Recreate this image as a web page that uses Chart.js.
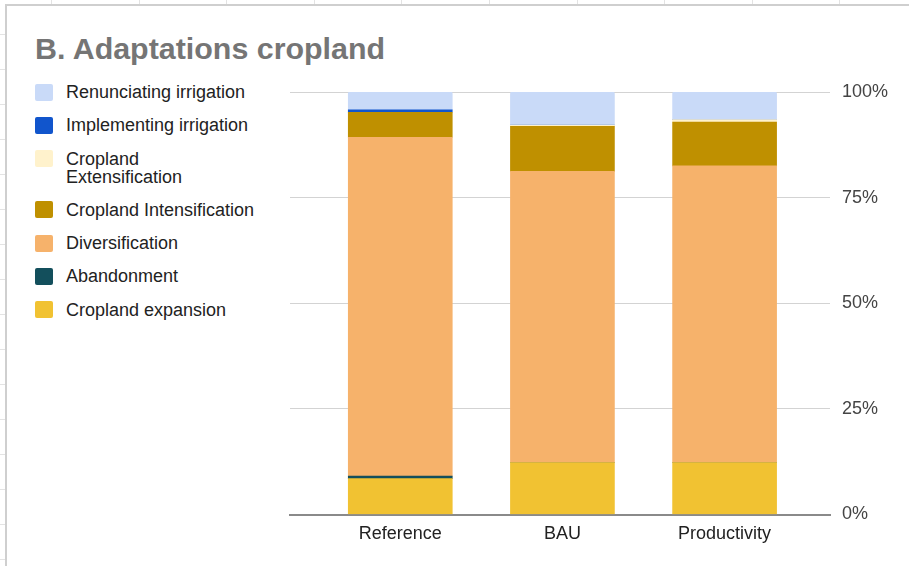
<!DOCTYPE html>
<html>
<head>
<meta charset="utf-8">
<title>B. Adaptations cropland</title>
<script src="https://cdn.jsdelivr.net/npm/chart.js@4.4.1/dist/chart.umd.min.js"></script>
<style>
  html, body { margin: 0; padding: 0; }
  body {
    width: 909px; height: 566px; overflow: hidden; position: relative;
    background-color: #ffffff;
    background-image:
      repeating-linear-gradient(to right, transparent 0, transparent 51px, #e3e3e3 51px, #e3e3e3 52px, transparent 52px, transparent 87.6px),
      repeating-linear-gradient(to bottom, transparent 0, transparent 34px, #e3e3e3 34px, #e3e3e3 35px, transparent 35px, transparent 29.2px);
    font-family: "Liberation Sans", Arial, sans-serif;
  }
  #frame {
    position: absolute; left: 5px; top: 4px; width: 920px; height: 580px;
    background: #ffffff; border: 2px solid #cfcfcf; box-sizing: border-box;
  }
  #title {
    position: absolute; left: 35px; top: 31px; margin: 0;
    font: bold 30.4px "Liberation Sans", Arial, sans-serif; color: #757575;
    white-space: nowrap; line-height: 34px;
  }
  #legend {
    position: absolute; left: 35px; top: 83px; margin: 0; padding: 0; list-style: none;
  }
  #legend li {
    display: flex; align-items: flex-start; margin-bottom: 15.3px;
  }
  #legend .box {
    width: 18px; height: 17px; border-radius: 2px; flex: 0 0 auto; margin-top: 0.5px; margin-right: 13px;
  }
  #legend .txt {
    width: 191px; font-size: 18px; line-height: 18px; color: #222222;
  }
  #wrap { position: absolute; left: 7px; top: 6px; width: 900px; height: 558px; }
</style>
</head>
<body>
<div id="frame"></div>
<h1 id="title">B. Adaptations cropland</h1>
<ul id="legend"></ul>
<div id="wrap"><canvas id="chart" width="900" height="558"></canvas></div>
<script>
// Scenarios along the horizontal axis
const categories = ['Reference', 'BAU', 'Productivity'];

// Share of cropland (%) per adaptation, stacked bottom to top
const croplandExpansion       = [8.5, 12.3, 12.3];
const abandonment             = [0.6, 0.0, 0.0];
const diversification         = [80.2, 68.9, 70.2];
const croplandIntensification = [5.9, 10.7, 10.4];
const croplandExtensification = [0.0, 0.3, 0.6];
const implementingIrrigation  = [0.6, 0.0, 0.0];
const renunciatingIrrigation  = [4.2, 7.8, 6.5];

// Percent axis ticks
const yTicks = [0, 25, 50, 75, 100];

const series = [
  { label: 'Cropland expansion',       values: croplandExpansion,       color: '#f1c232' },
  { label: 'Abandonment',              values: abandonment,             color: '#134f5c' },
  { label: 'Diversification',          values: diversification,         color: '#f6b26b' },
  { label: 'Cropland Intensification', values: croplandIntensification, color: '#bf9000' },
  { label: 'Cropland Extensification', values: croplandExtensification, color: '#fff2cc' },
  { label: 'Implementing irrigation',  values: implementingIrrigation,  color: '#1155cc' },
  { label: 'Renunciating irrigation',  values: renunciatingIrrigation,  color: '#c9daf8' }
];

const datasets = series.map((s, k) => ({
  label: s.label,
  data: s.values.map((v, i) => ({ x: i, y: v })),
  backgroundColor: s.color,
  borderWidth: 0,
  borderRadius: k === series.length - 1 ? { topLeft: 2, topRight: 2 } : 0,
  borderSkipped: 'start',
  barThickness: 104
}));

const tickFont = { family: '"Liberation Sans", Arial, sans-serif', size: 18 };

const chart = new Chart(document.getElementById('chart'), {
  type: 'bar',
  data: { datasets },
  options: {
    responsive: false,
    animation: false,
    layout: { padding: { left: 283, top: 86, right: 7, bottom: 9.5 } },
    plugins: { legend: { display: false }, tooltip: { enabled: false } },
    scales: {
      x: {
        type: 'linear',
        stacked: true,
        offset: false,
        bounds: 'data',
        min: -0.68,
        max: 2.65,
        afterFit: s => { s.height = 40; },
        grid: { display: false, drawTicks: false, offset: false },
        border: { display: true, color: '#8a8a8a', width: 2 },
        afterBuildTicks: s => { s.ticks = categories.map((c, i) => ({ value: i })); },
        ticks: {
          padding: 9,
          color: '#222222',
          font: tickFont,
          maxRotation: 0,
          autoSkip: false,
          callback: v => categories[v] ?? ''
        }
      },
      y: {
        position: 'right',
        stacked: true,
        min: 0,
        max: 100,
        afterFit: s => { s.width = 70; },
        afterBuildTicks: s => { s.ticks = yTicks.map(v => ({ value: v })); },
        grid: { color: '#d3d3d3', lineWidth: 1, drawTicks: false },
        border: { display: false },
        ticks: {
          padding: 12,
          color: '#444444',
          font: tickFont,
          callback: v => v + '%'
        }
      }
    }
  }
});

// Legend listed top-down in the same order as the stack
const legend = document.getElementById('legend');
series.slice().reverse().forEach(s => {
  const li = document.createElement('li');
  const box = document.createElement('span');
  box.className = 'box';
  box.style.background = s.color;
  const txt = document.createElement('span');
  txt.className = 'txt';
  txt.textContent = s.label;
  li.appendChild(box);
  li.appendChild(txt);
  legend.appendChild(li);
});
</script>
</body>
</html>
